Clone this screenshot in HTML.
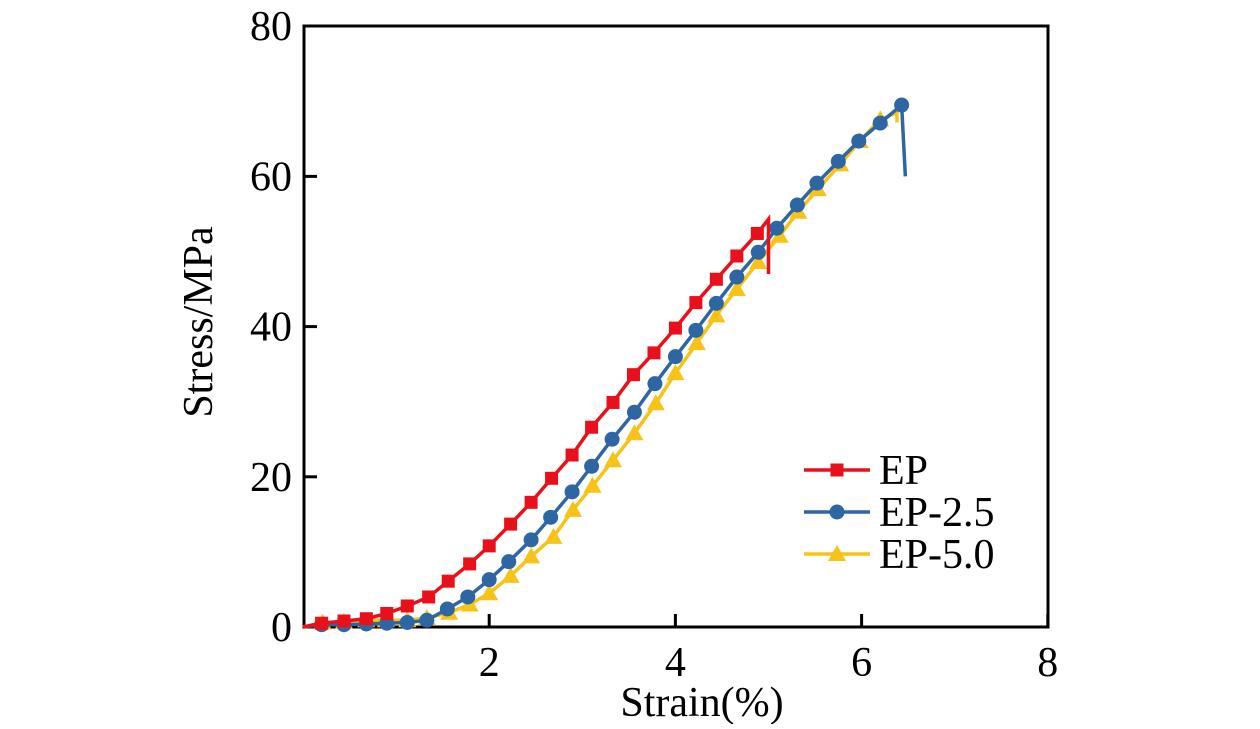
<!DOCTYPE html>
<html><head><meta charset="utf-8"><style>
body{margin:0;background:#fff;width:1260px;height:724px;overflow:hidden}
svg text{font-family:"Liberation Serif",serif;fill:#000}
</style></head><body>
<svg id="chart" width="1260" height="724" viewBox="0 0 1260 724" xmlns="http://www.w3.org/2000/svg">
<rect x="304" y="26" width="744" height="601" fill="none" stroke="#000" stroke-width="3"/>
<g id="ticks"></g>
<g id="series"></g>
<text x="702" y="716" font-size="42" text-anchor="middle">Strain(%)</text>
<text transform="translate(212,322) rotate(-90)" font-size="42" text-anchor="middle">Stress/MPa</text>
<g id="legend"></g>
</svg>
<script>
const xTicks=[2,4,6,8];
const yTicks=[0,20,40,60,80];
const epX=[0.2,0.44,0.68,0.9,1.12,1.35,1.56,1.79,2.0,2.23,2.45,2.67,2.89,3.1,3.33,3.55,3.77,4.0,4.22,4.44,4.66,4.88];
const epY=[0.5,0.8,1.1,1.8,2.8,4.0,6.1,8.4,10.8,13.7,16.6,19.8,22.9,26.6,29.9,33.6,36.5,39.8,43.2,46.3,49.4,52.4];
const epEnd=[[5.0,54.3],[5.0,47.0]];
const ep25X=[0.2,0.44,0.68,0.9,1.12,1.33,1.55,1.77,2.0,2.21,2.45,2.66,2.89,3.10,3.32,3.56,3.78,4.0,4.22,4.44,4.66,4.89,5.09,5.31,5.52,5.75,5.97,6.2,6.43];
const ep25Y=[0.3,0.3,0.4,0.5,0.6,0.9,2.4,4.0,6.3,8.7,11.6,14.6,18.0,21.4,25.0,28.6,32.4,36.0,39.5,43.1,46.6,49.9,53.1,56.2,59.1,62.0,64.7,67.1,69.5];
const ep25End=[[6.47,60.0]];
const ep50X=[0.21,0.44,0.68,0.89,1.12,1.33,1.57,1.79,2.0,2.23,2.45,2.69,2.9,3.11,3.33,3.56,3.79,4.0,4.23,4.44,4.66,4.89,5.12,5.32,5.53,5.77,5.98,6.2];
const ep50Y=[0.6,0.7,0.9,0.9,0.9,1.2,1.9,3.0,4.5,6.8,9.4,12.0,15.6,18.8,22.2,25.8,29.8,33.8,37.8,41.5,45.0,48.6,52.1,55.3,58.3,61.6,64.7,67.6];
const ep50End=[[6.38,68.5],[6.38,67.2]];
const X=v=>303+v*93.1, Y=v=>627-v*7.51;
const NS="http://www.w3.org/2000/svg";
function mk(t,a,p){const e=document.createElementNS(NS,t);for(const k in a)e.setAttribute(k,a[k]);p.appendChild(e);return e;}
const tg=document.getElementById('ticks');
xTicks.forEach(v=>{
 const l=mk('line',{x1:X(v),x2:X(v),y1:627,y2:614,stroke:'#000','stroke-width':3},tg);
 
 
 const t=mk('text',{x:X(v),y:676,'font-size':42,'text-anchor':'middle'},tg);t.textContent=v;
 
 
});
yTicks.forEach(v=>{
 if(v>0&&v<80){const l=mk('line',{x1:304,x2:317,y1:Y(v),y2:Y(v),stroke:'#000','stroke-width':3},tg);
 
 }
 const t=mk('text',{x:292,y:Y(v)+14,'font-size':42,'text-anchor':'end'},tg);t.textContent=v;
 
 
});
const sg=document.getElementById('series');
function marker(kind,cx,cy,col,g){
 let m;
 if(kind==='sq')m=mk('rect',{x:cx-6.5,y:cy-6.5,width:13,height:13,fill:col},g);
 else if(kind==='ci')m=mk('circle',{cx:cx,cy:cy,r:7.5,fill:col},g);
 else m=mk('polygon',{points:`${cx},${cy-9} ${cx+9},${cy+7} ${cx-9},${cy+7}`,fill:col},g);
 return m;
}
function series(xs,ys,end,col,kind,name){
 const g=mk('g',{},sg);
 
 
 const pts=xs.map((x,i)=>[X(x),Y(ys[i])]).concat(end.map(p=>[X(p[0]),Y(p[1])]));
 const pl=mk('polyline',{points:[[X(0),Y(0)]].concat(pts).map(p=>p.join(',')).join(' '),fill:'none',stroke:col,'stroke-width':3.5},g);
 
 
 xs.forEach((x,i)=>{const m=marker(kind,X(x),Y(ys[i]),col,g);
  
  });
}
series(ep50X,ep50Y,ep50End,'#f7c318','tr','ep-5.0-series');
series(ep25X,ep25Y,ep25End,'#2e65a3','ci','ep-2.5-series');
series(epX,epY,epEnd,'#e8111b','sq','ep-series');
const lg=document.getElementById('legend');
[['EP','#e8111b','sq'],['EP-2.5','#2e65a3','ci'],['EP-5.0','#f7c318','tr']].forEach((d,i)=>{
 const y=470+i*42;
 const g=mk('g',{},lg);
 
 
 mk('line',{x1:804,x2:870,y1:y,y2:y,stroke:d[1],'stroke-width':3.5},g);
 marker(d[2],837,y,d[1],g);
 const t=mk('text',{x:879,y:y+14,'font-size':42},g);t.textContent=d[0];
});
</script>
</body></html>
